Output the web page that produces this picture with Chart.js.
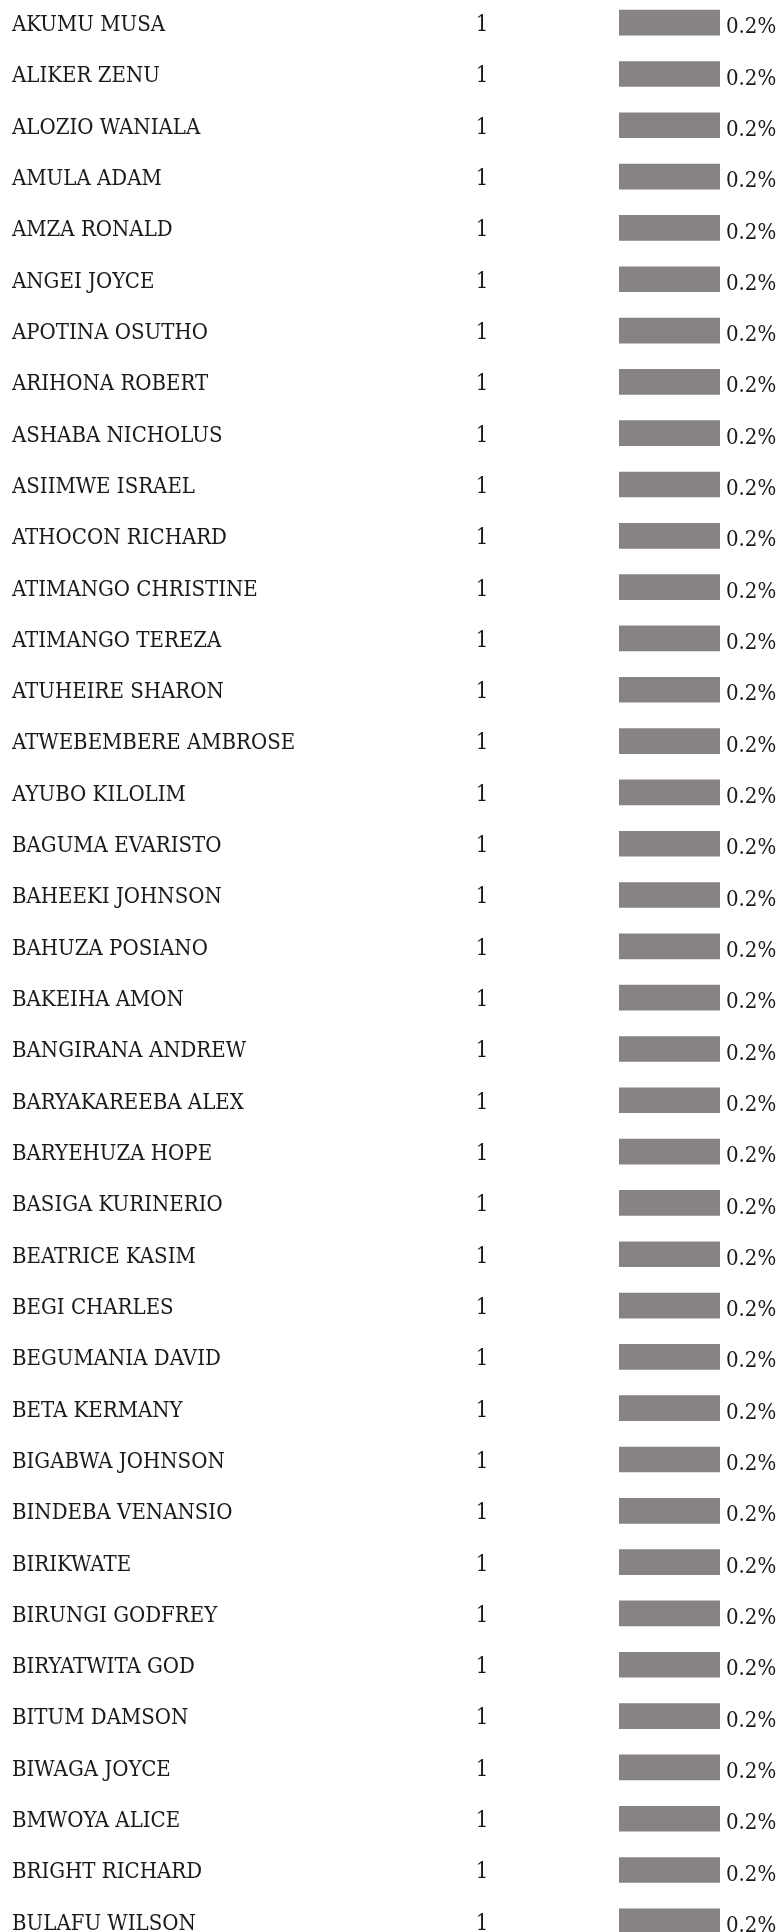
<!DOCTYPE html>
<html>
<head>
<meta charset="utf-8">
<script src="https://cdn.jsdelivr.net/npm/chart.js@4/dist/chart.umd.min.js"></script>
<style>
  html, body { margin: 0; padding: 0; background: #ffffff; overflow: hidden; }
  .wrap { position: absolute; left: 0; top: -3px; width: 779px; height: 1950px; }
</style>
</head>
<body>
<div class="wrap"><canvas id="respChart"></canvas></div>
<script>
// names, counts and share of responses
const names = [
  'AKUMU MUSA', 'ALIKER ZENU', 'ALOZIO WANIALA', 'AMULA ADAM', 'AMZA RONALD',
  'ANGEI JOYCE', 'APOTINA OSUTHO', 'ARIHONA ROBERT', 'ASHABA NICHOLUS', 'ASIIMWE ISRAEL',
  'ATHOCON RICHARD', 'ATIMANGO CHRISTINE', 'ATIMANGO TEREZA', 'ATUHEIRE SHARON', 'ATWEBEMBERE AMBROSE',
  'AYUBO KILOLIM', 'BAGUMA EVARISTO', 'BAHEEKI JOHNSON', 'BAHUZA POSIANO', 'BAKEIHA AMON',
  'BANGIRANA ANDREW', 'BARYAKAREEBA ALEX', 'BARYEHUZA HOPE', 'BASIGA KURINERIO', 'BEATRICE KASIM',
  'BEGI CHARLES', 'BEGUMANIA DAVID', 'BETA KERMANY', 'BIGABWA JOHNSON', 'BINDEBA VENANSIO',
  'BIRIKWATE', 'BIRUNGI GODFREY', 'BIRYATWITA GOD', 'BITUM DAMSON', 'BIWAGA JOYCE',
  'BMWOYA ALICE', 'BRIGHT RICHARD', 'BULAFU WILSON'
];
const counts = [
  1, 1, 1, 1, 1, 1, 1, 1, 1, 1,
  1, 1, 1, 1, 1, 1, 1, 1, 1, 1,
  1, 1, 1, 1, 1, 1, 1, 1, 1, 1,
  1, 1, 1, 1, 1, 1, 1, 1
];
const percents = [
  0.2, 0.2, 0.2, 0.2, 0.2, 0.2, 0.2, 0.2, 0.2, 0.2,
  0.2, 0.2, 0.2, 0.2, 0.2, 0.2, 0.2, 0.2, 0.2, 0.2,
  0.2, 0.2, 0.2, 0.2, 0.2, 0.2, 0.2, 0.2, 0.2, 0.2,
  0.2, 0.2, 0.2, 0.2, 0.2, 0.2, 0.2, 0.2
];

const FONT = '22px "DejaVu Serif Condensed", "DejaVu Serif"';
const TEXT_COLOR = '#1a1a1a';

// draws the name, count and percent columns next to each bar
const rowText = {
    id: 'rowText',
    afterDatasetsDraw(chart) {
        const { ctx, scales } = chart;
        const y = scales.y;
        const x = scales.x;
        ctx.save();
        ctx.font = FONT;
        ctx.fillStyle = TEXT_COLOR;
        ctx.textBaseline = 'alphabetic';
        names.forEach((name, i) => {
            const cy = y.getPixelForValue(i);
            ctx.textAlign = 'left';
            ctx.fillText(name, 12, cy + 8.4);
            ctx.textAlign = 'center';
            ctx.fillText(String(counts[i]), 482, cy + 8.4);
            ctx.textAlign = 'left';
            ctx.fillText(percents[i] + '%', x.getPixelForValue(percents[i]) + 6, cy + 10.6);
        });
        ctx.restore();
    }
};

new Chart(document.getElementById('respChart'), {
    type: 'bar',
    data: {
        labels: names,
        datasets: [{
            data: percents,
            backgroundColor: '#878382',
            borderWidth: 0,
            barThickness: 25
        }]
    },
    options: {
        indexAxis: 'y',
        responsive: true,
        maintainAspectRatio: false,
        animation: false,
        layout: { padding: { left: 619, right: 59, top: 0, bottom: 0 } },
        plugins: {
            legend: { display: false },
            tooltip: { enabled: false }
        },
        scales: {
            x: { display: false, min: 0, max: 0.2 },
            y: { display: false, offset: true }
        }
    },
    plugins: [rowText]
});
</script>
</body>
</html>
